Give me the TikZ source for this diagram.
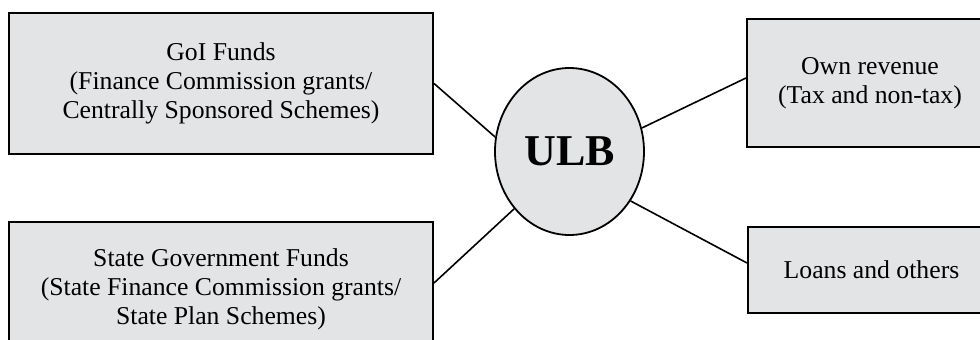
\documentclass[tikz,border=0pt]{standalone}
\usepackage{fontspec}
\setmainfont{Liberation Serif}
\usetikzlibrary{shapes.geometric}
\definecolor{boxfill}{RGB}{227,228,230}
\tikzset{
  fundbox/.style={draw=black, line width=2pt, fill=boxfill, inner sep=0pt,
    align=center, font=\fontsize{25.7}{29}\selectfont},
  hub/.style={ellipse, draw=black, line width=1.8pt, fill=boxfill, inner sep=0pt,
    minimum width=149pt, minimum height=167pt,
    font=\fontsize{44}{48}\selectfont\bfseries},
  link/.style={draw=black, line width=1.6pt}
}
\begin{document}
\begin{tikzpicture}[x=1pt, y=-1pt]
  \useasboundingbox (0,0) rectangle (980,340);
  \fill[white] (0,0) rectangle (980,340);
  \clip (0,0) rectangle (980,340);

  % source boxes
  \node[fundbox, minimum width=424pt, minimum height=141pt] (goi) at (221,83.5)
    {GoI Funds\\(Finance Commission grants/\\Centrally Sponsored Schemes)};
  \node[fundbox, minimum width=424pt, minimum height=134pt] (state) at (221,289)
    {State Government Funds\\(State Finance Commission grants/\\State Plan Schemes)};
  \node[fundbox, minimum width=246pt, minimum height=128pt] (own) at (870,83)
    {Own revenue\\(Tax and non-tax)};
  \node[fundbox, minimum width=247pt, minimum height=86pt] (loans) at (871.5,270)
    {Loans and others};

  % central body
  \node[hub] (ulb) at (569.5,151.5) {ULB};

  % connectors
  \draw[link] (goi.east) -- (ulb.169);
  \draw[link] ([yshift=6pt]state.east) -- (ulb.226);
  \draw[link] ([yshift=5pt]own.west) -- (ulb.18);
  \draw[link] ([yshift=7pt]loans.west) -- (ulb.-39);
\end{tikzpicture}
\end{document}
